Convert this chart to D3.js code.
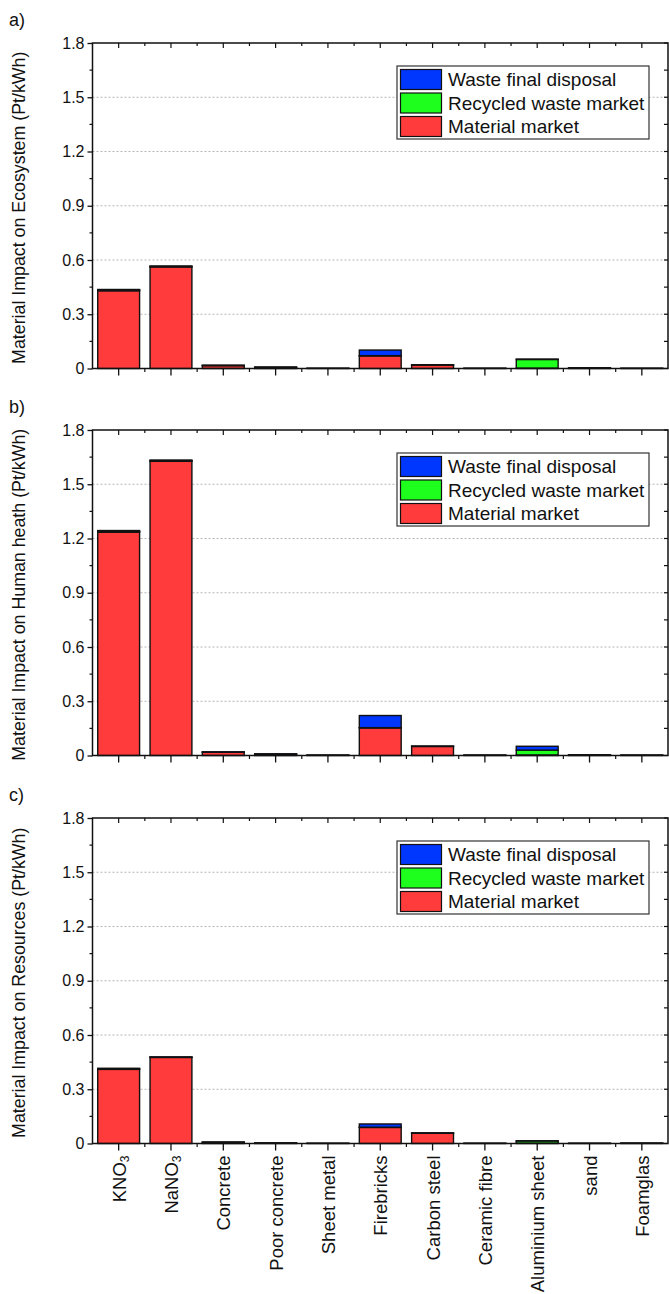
<!DOCTYPE html>
<html>
<head>
<meta charset="utf-8">
<script src="https://cdn.jsdelivr.net/npm/d3@7"></script>
<style>
  html, body { margin: 0; padding: 0; background: #fff; }
  svg { display: block; font-family: "Liberation Sans", Arial, sans-serif; }
</style>
</head>
<body>
<svg id="chart" width="669" height="1294"></svg>
<script>
// Materials on the shared x axis
const categories = ["KNO3", "NaNO3", "Concrete", "Poor concrete", "Sheet metal", "Firebricks",
  "Carbon steel", "Ceramic fibre", "Aluminium sheet", "sand", "Foamglas"];

// Stack components (bottom to top)
const seriesNames = ["Material market", "Recycled waste market", "Waste final disposal"];
const seriesColors = ["#ff3b3b", "#1eff1e", "#0037ff"];

// a) Ecosystem (Pt/kWh)
const ecoMaterial = [0.430, 0.562, 0.016, 0.006, 0.001, 0.070, 0.019, 0.001, 0.002, 0.003, 0.001];
const ecoRecycled = [0.003, 0.002, 0.001, 0.001, 0.0005, 0.001, 0.001, 0.0005, 0.048, 0.001, 0.0005];
const ecoWaste    = [0.004, 0.003, 0.001, 0.0005, 0, 0.031, 0.001, 0, 0.002, 0, 0];

// b) Human health (Pt/kWh)
const hhMaterial = [1.235, 1.627, 0.018, 0.007, 0.002, 0.153, 0.050, 0.002, 0.003, 0.003, 0.002];
const hhRecycled = [0.004, 0.003, 0.001, 0.001, 0.0005, 0.001, 0.001, 0.0005, 0.027, 0.001, 0.0005];
const hhWaste    = [0.005, 0.004, 0.001, 0.001, 0, 0.067, 0.001, 0, 0.021, 0, 0];

// c) Resources (Pt/kWh)
const resMaterial = [0.410, 0.476, 0.006, 0.003, 0.001, 0.089, 0.057, 0.001, 0.002, 0.001, 0.002];
const resRecycled = [0.002, 0.001, 0.001, 0.0005, 0.0005, 0.001, 0.0005, 0.0005, 0.012, 0.0005, 0.0005];
const resWaste    = [0.004, 0.002, 0.001, 0, 0, 0.018, 0.001, 0, 0.001, 0, 0];

const yTicks = [0, 0.3, 0.6, 0.9, 1.2, 1.5, 1.8];
const yTickLabels = ["0", "0.3", "0.6", "0.9", "1.2", "1.5", "1.8"];

const panels = [
  { tag: "a)", title: "Material Impact on Ecosystem (Pt/kWh)", data: [ecoMaterial, ecoRecycled, ecoWaste], top: 43 },
  { tag: "b)", title: "Material Impact on Human heath (Pt/kWh)", data: [hhMaterial, hhRecycled, hhWaste], top: 430 },
  { tag: "c)", title: "Material Impact on Resources (Pt/kWh)", data: [resMaterial, resRecycled, resWaste], top: 818 }
];

const svg = d3.select("#chart");
const left = 92.5, right = 668, plotH = 325.5;

const x = d3.scaleBand().domain(categories).range([left, right]).paddingInner(0.2).paddingOuter(0.1);
const xCenter = c => x(c) + x.bandwidth() / 2;
const step = x.step();

panels.forEach((p, pi) => {
  const g = svg.append("g");
  const y = d3.scaleLinear().domain([0, 1.8]).range([p.top + plotH, p.top]);
  const bottom = p.top + plotH;

  // dotted grid lines
  g.append("g").selectAll("line")
    .data(yTicks.filter(t => t > 0 && t < 1.8))
    .join("line")
    .attr("x1", left).attr("x2", right)
    .attr("y1", d => y(d)).attr("y2", d => y(d))
    .attr("stroke", "#b4b4b4").attr("stroke-width", 1)
    .attr("stroke-dasharray", "2,2");

  // stacked bars
  const rows = categories.map((c, i) => {
    const r = { cat: c };
    seriesNames.forEach((s, k) => r[s] = p.data[k][i]);
    return r;
  });
  const stacked = d3.stack().keys(seriesNames)(rows);
  const bars = g.append("g");
  stacked.forEach((layer, k) => {
    bars.append("g").selectAll("rect")
      .data(layer.filter(d => d[1] - d[0] > 0))
      .join("rect")
      .attr("x", d => x(d.data.cat))
      .attr("width", x.bandwidth())
      .attr("y", d => y(d[1]))
      .attr("height", d => Math.max(0.01, y(d[0]) - y(d[1])))
      .attr("fill", seriesColors[k])
      .attr("stroke", "#111").attr("stroke-width", 1.4);
  });

  // left axis (outward ticks)
  const yAxis = d3.axisLeft(y).tickValues(yTicks).tickSize(5).tickPadding(3)
    .tickFormat((d, i) => yTickLabels[i]);
  const ya = g.append("g").attr("transform", `translate(${left},0)`).call(yAxis);
  ya.select(".domain").remove();
  ya.selectAll("text").attr("font-size", 16).attr("fill", "#111")
    .attr("font-family", "Liberation Sans, Arial, sans-serif");
  ya.selectAll("line").attr("stroke", "#111").attr("stroke-width", 1.3);

  // minor ticks: left (outward) and right (inward)
  const yMinor = d3.range(0.15, 1.8, 0.3);
  g.append("g").selectAll("line").data(yMinor).join("line")
    .attr("x1", left - 3).attr("x2", left)
    .attr("y1", d => y(d)).attr("y2", d => y(d))
    .attr("stroke", "#111").attr("stroke-width", 1.2);
  g.append("g").selectAll("line").data(yTicks.concat(yMinor)).join("line")
    .attr("x1", right - 4).attr("x2", right)
    .attr("y1", d => y(d)).attr("y2", d => y(d))
    .attr("stroke", "#111").attr("stroke-width", 1.2);

  // bottom axis ticks (outward) and top mirrored ticks (inward)
  const xAxis = d3.axisBottom(x).tickSize(7).tickFormat("");
  const xa = g.append("g").attr("transform", `translate(0,${bottom})`).call(xAxis);
  xa.select(".domain").remove();
  xa.selectAll("line").attr("stroke", "#111").attr("stroke-width", 1.3);
  const xMinor = categories.slice(0, -1).map(c => xCenter(c) + step / 2);
  g.append("g").selectAll("line").data(xMinor).join("line")
    .attr("x1", d => d).attr("x2", d => d)
    .attr("y1", bottom).attr("y2", bottom + 3.5)
    .attr("stroke", "#111").attr("stroke-width", 1.2);
  g.append("g").selectAll("line").data(categories.map(xCenter)).join("line")
    .attr("x1", d => d).attr("x2", d => d)
    .attr("y1", p.top).attr("y2", p.top + 5)
    .attr("stroke", "#111").attr("stroke-width", 1.2);
  g.append("g").selectAll("line").data(xMinor).join("line")
    .attr("x1", d => d).attr("x2", d => d)
    .attr("y1", p.top).attr("y2", p.top + 3)
    .attr("stroke", "#111").attr("stroke-width", 1.2);

  // frame
  g.append("rect").attr("x", left).attr("y", p.top)
    .attr("width", right - left).attr("height", plotH)
    .attr("fill", "none").attr("stroke", "#111").attr("stroke-width", 1.5);

  // y axis title
  g.append("text")
    .attr("transform", `translate(25,${p.top + plotH / 2 + 2}) rotate(-90)`)
    .attr("text-anchor", "middle").attr("font-size", 17.8).attr("fill", "#111")
    .text(p.title);

  // panel tag
  g.append("text").attr("x", 9).attr("y", p.top - 17)
    .attr("font-size", 18).attr("fill", "#111").text(p.tag);

  // legend
  const lx = 397, ly = p.top + 23, rowH = 23.5;
  const lg = g.append("g");
  lg.append("rect").attr("x", lx).attr("y", ly).attr("width", 252).attr("height", 73)
    .attr("fill", "#fff").attr("stroke", "#333").attr("stroke-width", 1.2);
  const legendOrder = [2, 1, 0];
  legendOrder.forEach((k, r) => {
    lg.append("rect").attr("x", lx + 3.5).attr("y", ly + 3.5 + r * rowH)
      .attr("width", 41).attr("height", 20)
      .attr("fill", seriesColors[k]).attr("stroke", "#111").attr("stroke-width", 1.2);
    lg.append("text").attr("x", lx + 51).attr("y", ly + 20 + r * rowH)
      .attr("font-size", 19).attr("fill", "#111").text(seriesNames[k]);
  });

  // category labels, bottom panel only
  if (pi === panels.length - 1) {
    const lab = g.append("g").selectAll("text").data(categories).join("text")
      .attr("transform", d => `translate(${xCenter(d) + 7},${bottom + 12}) rotate(-90)`)
      .attr("text-anchor", "end").attr("font-size", 18.5).attr("fill", "#111");
    lab.each(function (d) {
      const t = d3.select(this);
      const m = d.match(/^(K|Na)(NO)(\d)$/);
      if (m) {
        t.append("tspan").text(m[1] + m[2]);
        t.append("tspan").attr("font-size", 12).attr("dy", 3).text(m[3]);
      } else {
        t.text(d);
      }
    });
  }
});
</script>
</body>
</html>
